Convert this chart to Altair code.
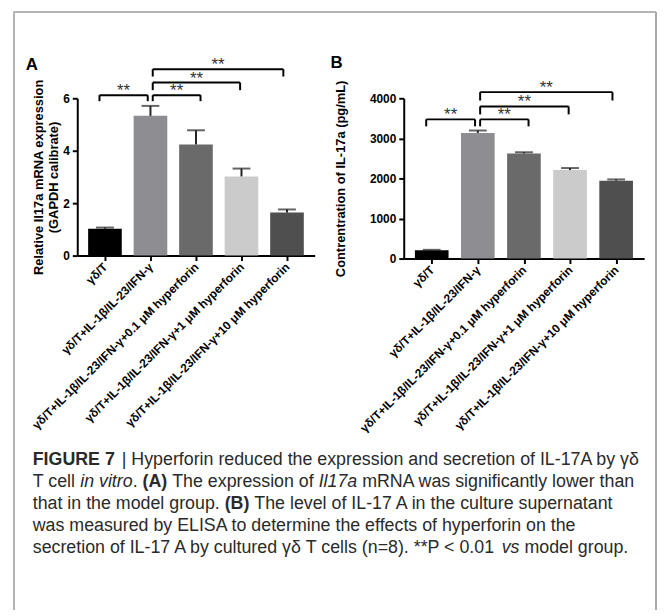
import altair as alt
import pandas as pd

FONT = "Liberation Sans"

cats = [
    "γδ/T",
    "γδ/T+IL-1β/IL-23/IFN-γ",
    "γδ/T+IL-1β/IL-23/IFN-γ+0.1 μM hyperforin",
    "γδ/T+IL-1β/IL-23/IFN-γ+1 μM hyperforin",
    "γδ/T+IL-1β/IL-23/IFN-γ+10 μM hyperforin",
]
bar_colors = ["#000000", "#8d8d92", "#6a6a6a", "#cbcbcb", "#4f4f4f"]

a_mean = [1.02, 5.33, 4.24, 3.02, 1.64]
a_sem = [0.05, 0.38, 0.54, 0.30, 0.12]
a_ticks = [0, 2, 4, 6]

b_mean = [210, 3136, 2623, 2209, 1945]
b_sem = [8, 60, 30, 50, 30]
b_ticks = [0, 1000, 2000, 3000, 4000]

# significance brackets (positions in category-index units)
br_left = [-0.12, 1.05, 1.05, 1.05]
br_right = [0.94, 2.10, 2.97, 3.92]
br_label = ["**", "**", "**", "**"]
a_br_top = [6.12, 6.12, 6.60, 7.11]
a_br_bottom = [5.89, 5.89, 6.31, 6.83]
b_br_top = [3474, 3474, 3797, 4154]
b_br_bottom = [3300, 3300, 3598, 3945]

# caption segments: text, line, start (px from caption left), style
cap_text = [
    "FIGURE 7",
    "| Hyperforin reduced the expression and secretion of IL-17A by γδ",
    "T cell", "in vitro", ".", "(A)", "The expression of", "Il17a",
    "mRNA was significantly lower than",
    "that in the model group.", "(B)",
    "The level of IL-17 A in the culture supernatant",
    "was measured by ELISA to determine the effects of hyperforin on the",
    "secretion of IL-17 A by cultured γδ T cells (n=8). **P < 0.01", "vs",
    "model group.",
]
cap_line = [0, 0, 1, 1, 1, 1, 1, 1, 1, 2, 2, 2, 3, 4, 4, 4]
cap_pos = [0, 90, 0, 48, 101, 111, 141, 289, 333, 0, 194, 224, 0, 0, 474, 497]
cap_style = ["bold", "normal", "normal", "italic", "normal", "bold", "normal",
             "italic", "normal", "normal", "bold", "normal", "normal",
             "normal", "italic", "normal"]

label_expr = "[" + ",".join("'" + c + "'" for c in cats) + "][datum.value]"


def panel(means, sems, ticks, br_top, br_bot, ytitle, letter, w, h, tpad, tdx, toff):
    df = pd.DataFrame({
        "idx": list(range(len(cats))),
        "mean": means,
        "hi": [m + s for m, s in zip(means, sems)],
        "color": bar_colors,
    })
    bdf = pd.DataFrame({
        "left": br_left,
        "right": br_right,
        "mid": [(l + r) / 2 for l, r in zip(br_left, br_right)],
        "top": br_top,
        "bot": br_bot,
        "label": br_label,
    })
    xscale = alt.Scale(domain=[-0.5, 4.5], nice=False, zero=False)
    xaxis = alt.Axis(
        values=list(range(5)), labelExpr=label_expr, labelAngle=-45,
        labelAlign="right", labelBaseline="middle", labelFont=FONT,
        labelFontWeight="bold", labelFontSize=12, labelColor="black",
        labelPadding=4, labelOverlap=False, labelLimit=500, tickSize=5,
        tickWidth=2, tickColor="black", domainColor="black", domainWidth=2,
        grid=False, title=None,
    )
    yscale = alt.Scale(domain=[0, ticks[-1]], nice=False, zero=True)
    yaxis = alt.Axis(
        values=ticks, format="d", labelFont=FONT, labelFontWeight="bold",
        labelFontSize=12, labelColor="black", labelPadding=3, tickSize=5,
        tickWidth=2, tickColor="black", domainColor="black", domainWidth=2,
        grid=False, title=ytitle, titleFont=FONT, titleFontWeight="bold",
        titleFontSize=13, titleColor="black", titleLineHeight=15,
        titlePadding=tpad,
    )

    def X(f):
        return alt.X(f, scale=xscale, axis=xaxis)

    def Y(f):
        return alt.Y(f, scale=yscale, axis=yaxis)

    bars = alt.Chart(df).mark_bar(size=34).encode(
        x=X("idx:Q"), y=Y("mean:Q"), color=alt.Color("color:N", scale=None)
    )
    err = alt.Chart(df).mark_rule(color="#222222", strokeWidth=2).encode(
        x=X("idx:Q"), y=Y("mean:Q"), y2="hi:Q"
    )
    cap = alt.Chart(df).mark_tick(
        color="#222222", thickness=2, size=18, orient="horizontal"
    ).encode(x=X("idx:Q"), y=Y("hi:Q"))
    hline = alt.Chart(bdf).mark_rule(color="black", strokeWidth=2).encode(
        x=X("left:Q"), x2="right:Q", y=Y("top:Q")
    )
    vl = alt.Chart(bdf).mark_rule(color="black", strokeWidth=2).encode(
        x=X("left:Q"), y=Y("bot:Q"), y2="top:Q"
    )
    vr = alt.Chart(bdf).mark_rule(color="black", strokeWidth=2).encode(
        x=X("right:Q"), y=Y("bot:Q"), y2="top:Q"
    )
    stars = alt.Chart(bdf).mark_text(
        font=FONT, fontSize=17, color="#333333", baseline="alphabetic", dy=1
    ).encode(x=X("mid:Q"), y=Y("top:Q"), text="label:N")
    return alt.layer(bars, err, cap, hline, vl, vr, stars).properties(
        width=w, height=h,
        title=alt.TitleParams(
            letter, anchor="start", frame="group", font=FONT, fontSize=17,
            fontWeight="bold", color="black", dx=tdx, offset=toff,
        ),
    )


pa = panel(a_mean, a_sem, a_ticks, a_br_top, a_br_bottom,
           ["Relative Il17a mRNA expression", "(GAPDH calibrate)"], "A",
           240, 159, 2, -52, -18)
pb = panel(b_mean, b_sem, b_ticks, b_br_top, b_br_bottom,
           "Contrentration of IL-17a (pg/mL)", "B",
           243, 162, 22, -74, 7)

top = alt.hconcat(pa, pb, spacing=90, bounds="flush")

cdf = pd.DataFrame({"text": cap_text, "line": cap_line, "pos": cap_pos,
                    "style": cap_style})
cx = alt.X("pos:Q", scale=alt.Scale(domain=[0, 630], range=[-45, 585]), axis=None)
cy = alt.Y("line:Q", scale=alt.Scale(domain=[0, 4], range=[0, 89]), axis=None)


def cap_layer(style):
    kw = dict(font=FONT, fontSize=18, color="#2a2a2a", align="left",
              baseline="middle")
    if style == "bold":
        kw["fontWeight"] = "bold"
    if style == "italic":
        kw["fontStyle"] = "italic"
    return alt.Chart(cdf).transform_filter(
        alt.datum.style == style
    ).mark_text(**kw).encode(x=cx, y=cy, text="text:N")


fr_left = alt.Chart(cdf).mark_rule(color="#b4b4b4", strokeWidth=1.5).encode(
    x=alt.value(-64), y=alt.value(-453), y2=alt.value(151)
)
fr_right = alt.Chart(cdf).mark_rule(color="#a8a8a8", strokeWidth=1.5).encode(
    x=alt.value(585), y=alt.value(-453), y2=alt.value(151)
)
fr_top = alt.Chart(cdf).mark_rule(color="#b4b4b4", strokeWidth=1.5).encode(
    x=alt.value(-64), x2=alt.value(585), y=alt.value(-453)
)
caption = alt.layer(
    fr_left, fr_right, fr_top,
    cap_layer("normal"), cap_layer("bold"), cap_layer("italic"),
).properties(width=585, height=89)

chart = alt.vconcat(top, caption, spacing=366, bounds="flush").properties(
    padding={"left": 5, "top": 0, "right": 0, "bottom": 0}
).configure_view(stroke=None)

chart.save("out.html", embed_options={"renderer": "svg", "actions": False})
